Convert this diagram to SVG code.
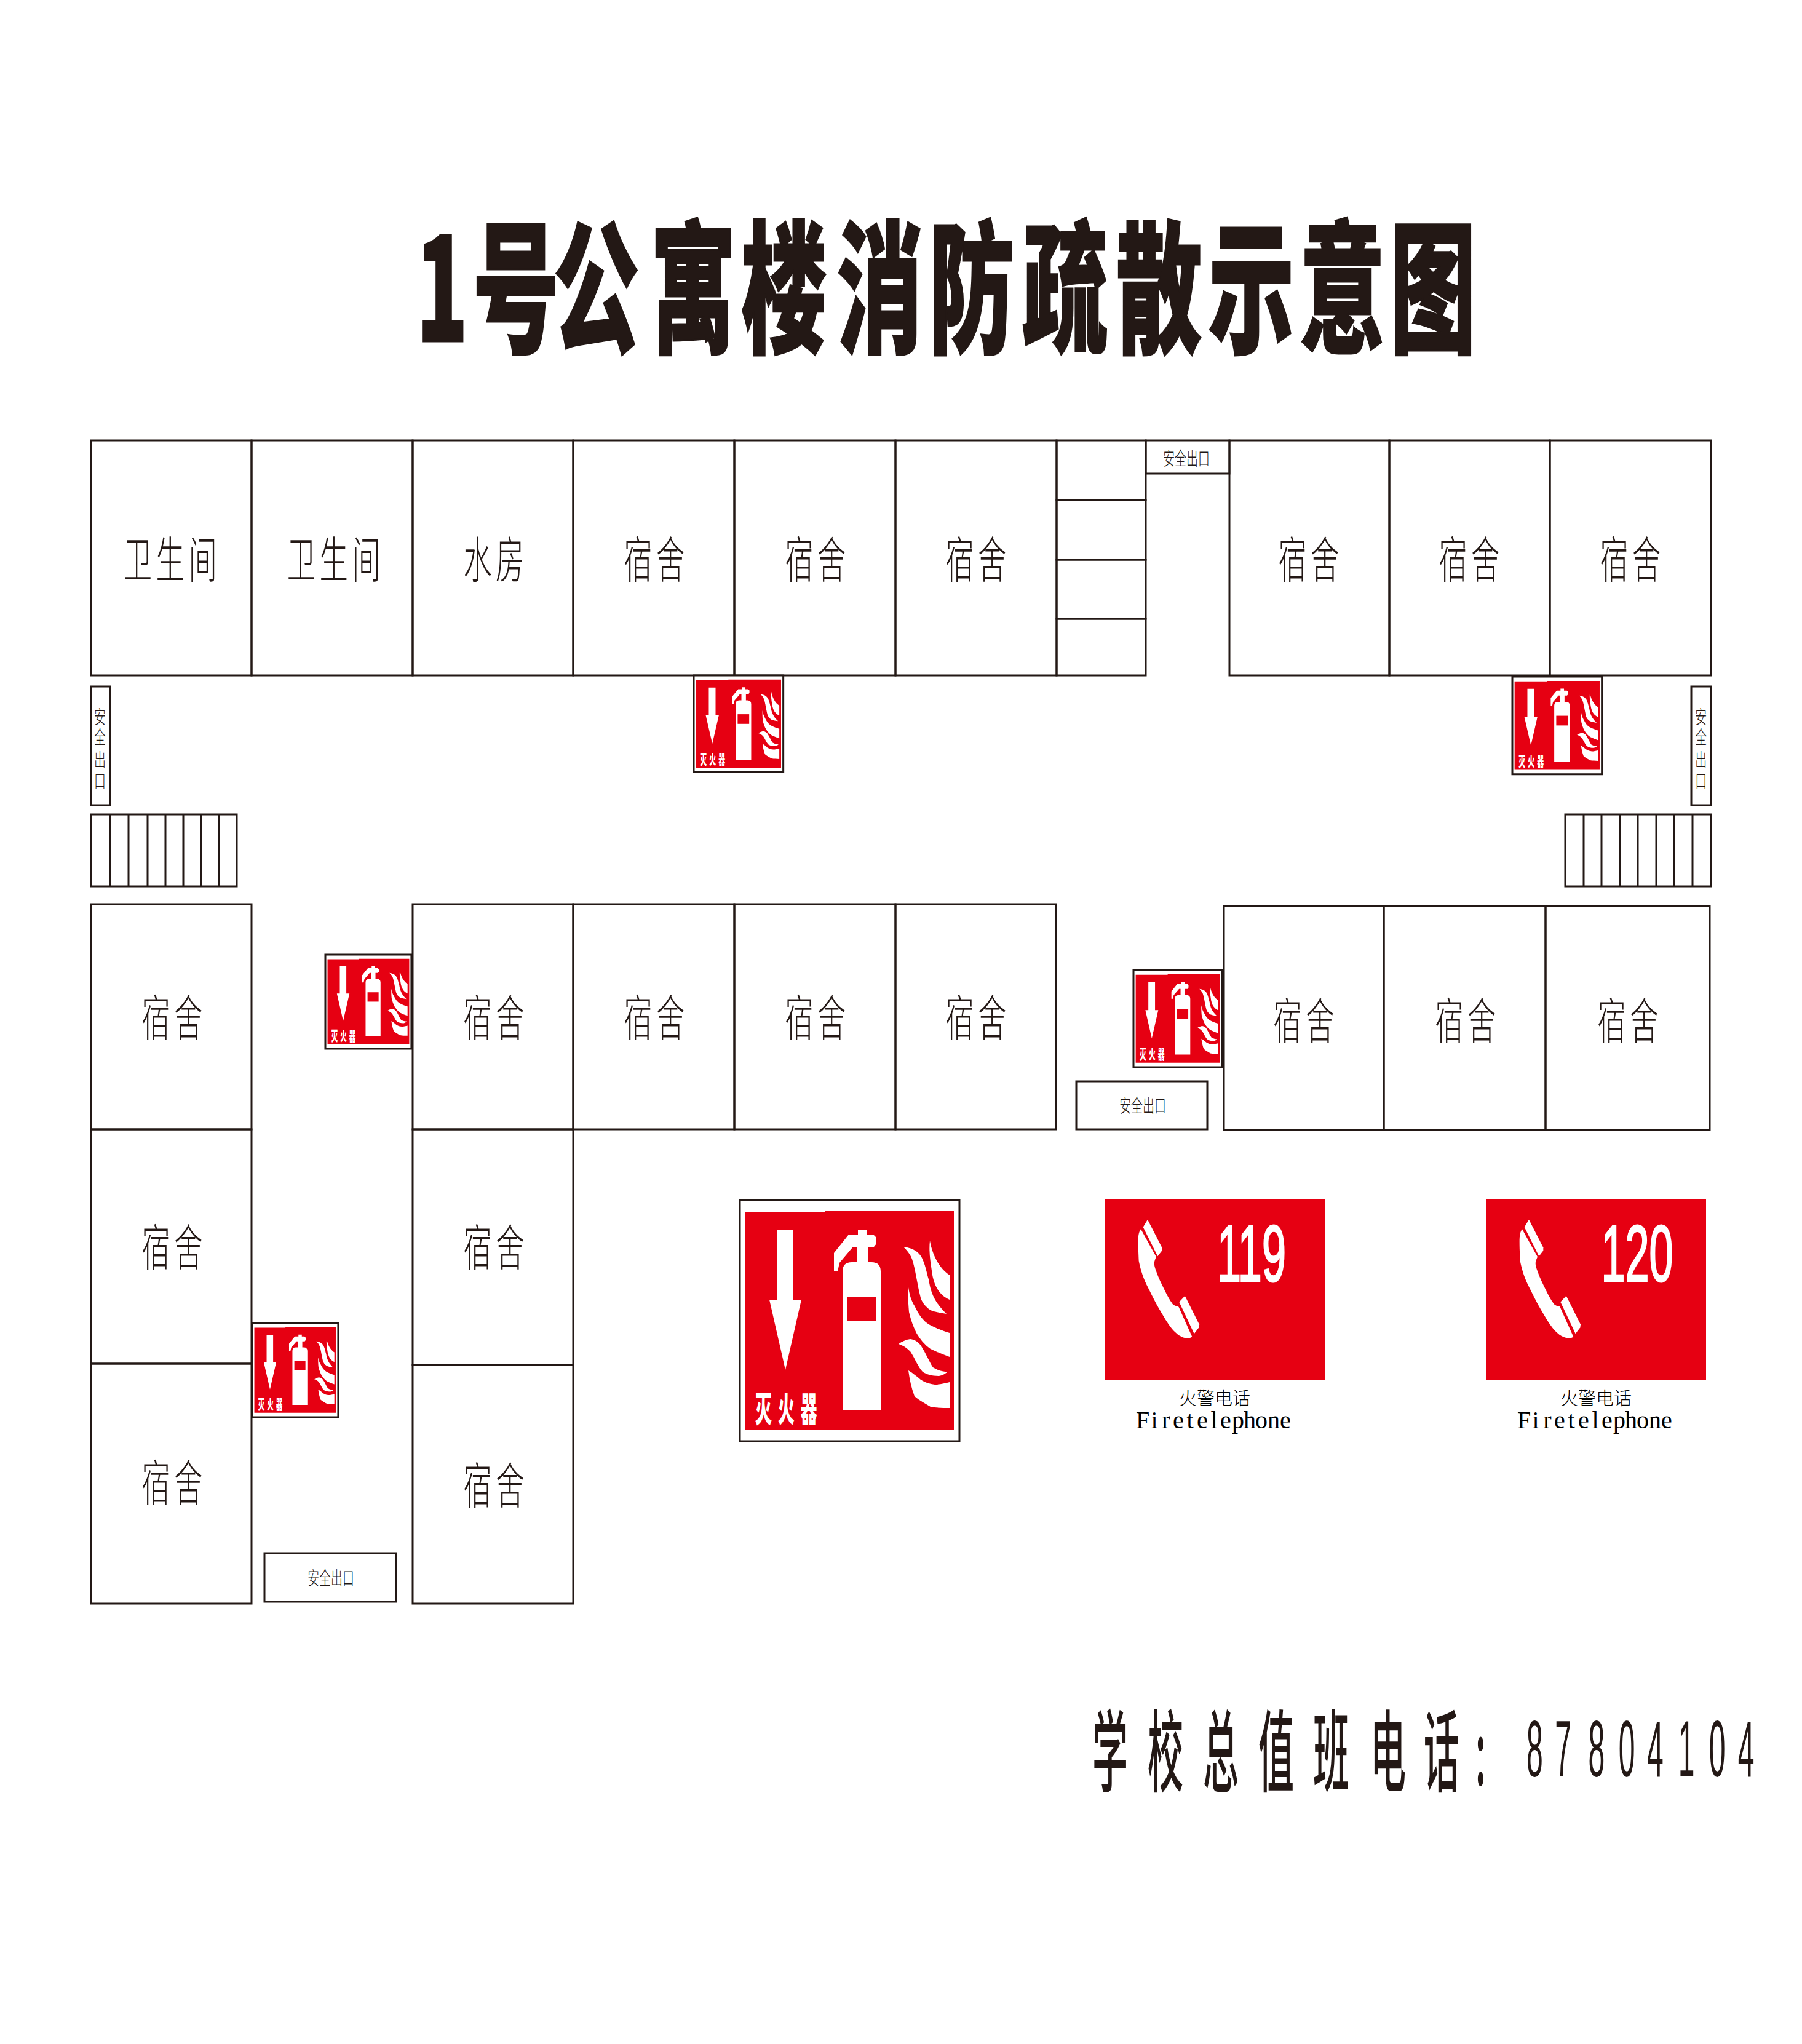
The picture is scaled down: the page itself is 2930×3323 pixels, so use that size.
<svg xmlns="http://www.w3.org/2000/svg" width="2930" height="3323" viewBox="0 0 2930 3323">
<style>
.w{fill:none;stroke:#231815;stroke-width:3}
.r{fill:#e60012}
.h{fill:#fff}
text{font-family:"Noto Sans CJK SC","Liberation Sans",sans-serif;fill:#231815}
.room{font-size:80px;font-weight:200;letter-spacing:11px;text-anchor:middle;dominant-baseline:central}
.ex{font-size:30px;font-weight:200;text-anchor:middle;dominant-baseline:central}
.title{font-size:232px;font-weight:900;stroke:#231815;stroke-width:3}
.duty{font-size:145px;font-weight:500}
.num{font-family:"Liberation Sans",sans-serif;font-size:130px}
.sl{font-size:56px;font-weight:900;fill:#fff}
.dig{font-family:"Liberation Sans",sans-serif;font-size:130px;fill:#fff;stroke:#fff;stroke-width:3;text-anchor:middle}
.cap{font-size:29px;font-weight:200;fill:#000;text-anchor:middle}
.en{font-family:"Liberation Serif",serif;font-size:40px;fill:#000;text-anchor:middle}
</style>
<defs>
<g id="ext">
<rect x="0" y="0" width="357" height="392" fill="#fff" stroke="#231815" stroke-width="3" vector-effect="non-scaling-stroke"/>
<path class="r" d="M9 19H138V17H348V374H9Z"/>
<path class="h" d="M60 49H87V162H100L74 276L48 162H60Z"/>
<path class="h" d="M167 341V116Q167 101 182 101H190V76H184L162 102L159 116H153V86L177 56H192V48H206V56H217L222 61V71L218 76H208V101H214Q229 101 229 116V341Z"/>
<rect class="r" x="175" y="157" width="46" height="39"/>
<path class="h" d="M309 66C313 90 325 112 341 122V162C325 155 315 140 312 115C310 100 307 85 309 66Z"/>
<path class="h" d="M266 76C283 78 293 86 297 96C303 110 304 120 307 129C310 148 315 165 336 185C322 183 315 181 310 179C300 172 296 165 294 159C291 148 289 136 287 126C285 115 283 105 280 96C277 88 272 82 266 76Z"/>
<path class="h" d="M274 142C276 155 279 164 284 172C291 187 298 196 307 202C318 208 330 213 341 216V255C330 251 320 247 310 242C300 235 293 226 287 216C282 206 278 195 275 182C274 170 273 155 274 142Z"/>
<path class="h" d="M258 234C263 230 270 227 277 226C285 227 290 231 294 236C303 250 308 263 314 272C322 277 330 279 338 279C332 284 328 285 324 286C313 286 304 284 297 279C289 270 284 256 277 246C271 240 265 236 258 234Z"/>
<path class="h" d="M274 277C281 281 288 287 294 292C302 297 309 299 317 300C325 300 333 298 341 296V338C331 338 320 338 310 336C302 331 292 326 284 319C279 306 276 292 274 277Z"/>
</g>
<g id="handset">
<path class="h" d="M285 235C270 255 270 280 275 390C285 440 300 480 320 520C345 570 365 610 390 650C410 685 430 715 450 735C470 755 490 765 510 767C522 767 530 765 535 760L470 615C466 610 462 612 458 610C450 608 445 605 440 600C425 580 412 555 400 530C385 500 370 470 360 440C354 425 350 412 350 400C352 390 355 380 360 370Z"/>
<path class="h" d="M318 188L388 325V340L367 367L296 225Z"/>
<path class="h" d="M500 560L570 700L568 715L545 745L472 590Z"/>
</g>
</defs>
<rect width="2930" height="3323" fill="#fff"/>
<g id="title"><text class="title" transform="translate(0,555) scale(.6,1)" x="1127 1282 1500 1762 2008 2268 2517 2770 3025 3275 3522 3768" y="0">1号公寓楼消防疏散示意图</text></g>

<g id="room-wc1"><rect class="w" x="148" y="716" width="261" height="382"/><text class="room" transform="translate(280,904) scale(.58,1)">卫生间</text></g>
<g id="room-wc2"><rect class="w" x="409" y="716" width="262" height="382"/><text class="room" transform="translate(546,904) scale(.58,1)">卫生间</text></g>
<g id="room-water"><rect class="w" x="671" y="716" width="261" height="382"/><text class="room" transform="translate(806,904) scale(.58,1)">水房</text></g>
<g id="room-t1"><rect class="w" x="932" y="716" width="262" height="382"/><text class="room" transform="translate(1067,904) scale(.58,1)">宿舍</text></g>
<g id="room-t2"><rect class="w" x="1194" y="716" width="262" height="382"/><text class="room" transform="translate(1329,904) scale(.58,1)">宿舍</text></g>
<g id="room-t3"><rect class="w" x="1456" y="716" width="262" height="382"/><text class="room" transform="translate(1590,904) scale(.58,1)">宿舍</text></g>
<g id="stairs-top"><rect class="w" x="1718" y="716" width="145" height="97"/><rect class="w" x="1718" y="813" width="145" height="97"/><rect class="w" x="1718" y="910" width="145" height="96"/><rect class="w" x="1718" y="1006" width="145" height="92"/></g>
<g id="exit-top"><rect class="w" x="1863" y="716" width="136" height="54"/><text class="ex" transform="translate(1929,743) scale(.63,1)">安全出口</text></g>
<g id="room-t4"><rect class="w" x="1999" y="716" width="260" height="382"/><text class="room" transform="translate(2131,904) scale(.58,1)">宿舍</text></g>
<g id="room-t5"><rect class="w" x="2259" y="716" width="261" height="382"/><text class="room" transform="translate(2392,904) scale(.58,1)">宿舍</text></g>
<g id="room-t6"><rect class="w" x="2520" y="716" width="262" height="382"/><text class="room" transform="translate(2654,904) scale(.58,1)">宿舍</text></g>

<g id="exit-left"><rect class="w" x="148" y="1116" width="31" height="193"/><text class="ex" transform="scale(.63,1)" x="258 258 258 258" y="1163 1196 1233 1267">安全出口</text></g>
<g id="exit-right"><rect class="w" x="2750" y="1116" width="32" height="193"/><text class="ex" transform="scale(.63,1)" x="4390 4390 4390 4390" y="1163 1196 1233 1267">安全出口</text></g>
<g id="stairs-left"><rect class="w" x="148" y="1324" width="237" height="117"/><path class="w" d="M179 1324V1441M209 1324V1441M240 1324V1441M269 1324V1441M298 1324V1441M327 1324V1441M356 1324V1441"/></g>
<g id="stairs-right"><rect class="w" x="2545" y="1324" width="237" height="117"/><path class="w" d="M2575 1324V1441M2604 1324V1441M2634 1324V1441M2663 1324V1441M2693 1324V1441M2722 1324V1441M2752 1324V1441"/></g>

<g id="room-l1"><rect class="w" x="148" y="1470" width="261" height="366"/><text class="room" transform="translate(283,1649) scale(.58,1)">宿舍</text></g>
<g id="room-l2"><rect class="w" x="148" y="1836" width="261" height="381"/><text class="room" transform="translate(283,2022) scale(.58,1)">宿舍</text></g>
<g id="room-l3"><rect class="w" x="148" y="2217" width="261" height="390"/><text class="room" transform="translate(283,2405) scale(.58,1)">宿舍</text></g>
<g id="room-m1"><rect class="w" x="671" y="1470" width="261" height="366"/><text class="room" transform="translate(806,1649) scale(.58,1)">宿舍</text></g>
<g id="room-m2"><rect class="w" x="932" y="1470" width="262" height="366"/><text class="room" transform="translate(1067,1649) scale(.58,1)">宿舍</text></g>
<g id="room-m3"><rect class="w" x="1194" y="1470" width="262" height="366"/><text class="room" transform="translate(1329,1649) scale(.58,1)">宿舍</text></g>
<g id="room-m4"><rect class="w" x="1456" y="1470" width="261" height="366"/><text class="room" transform="translate(1590,1649) scale(.58,1)">宿舍</text></g>
<g id="room-m5"><rect class="w" x="671" y="1836" width="261" height="383"/><text class="room" transform="translate(806,2022) scale(.58,1)">宿舍</text></g>
<g id="room-m6"><rect class="w" x="671" y="2219" width="261" height="388"/><text class="room" transform="translate(806,2409) scale(.58,1)">宿舍</text></g>
<g id="room-r1"><rect class="w" x="1990" y="1473" width="260" height="364"/><text class="room" transform="translate(2123,1654) scale(.58,1)">宿舍</text></g>
<g id="room-r2"><rect class="w" x="2250" y="1473" width="263" height="364"/><text class="room" transform="translate(2386,1654) scale(.58,1)">宿舍</text></g>
<g id="room-r3"><rect class="w" x="2513" y="1473" width="267" height="364"/><text class="room" transform="translate(2650,1654) scale(.58,1)">宿舍</text></g>
<g id="exit-mid"><rect class="w" x="1750" y="1758" width="213" height="78"/><text class="ex" transform="translate(1858,1795) scale(.63,1)">安全出口</text></g>
<g id="exit-bottom"><rect class="w" x="430" y="2525" width="214" height="79"/><text class="ex" transform="translate(538,2563) scale(.63,1)">安全出口</text></g>

<g id="sign-1" transform="translate(1128,1098) scale(.408,.402)"><use href="#ext"/><text class="sl" transform="translate(0,360) scale(.48,1)" x="52 129 206" y="0">灭火器</text></g>
<g id="sign-2" transform="translate(2459,1100) scale(.408,.405)"><use href="#ext"/><text class="sl" transform="translate(0,360) scale(.48,1)" x="52 129 206" y="0">灭火器</text></g>
<g id="sign-3" transform="translate(529,1552) scale(.392,.39)"><use href="#ext"/><text class="sl" transform="translate(0,360) scale(.48,1)" x="52 129 206" y="0">灭火器</text></g>
<g id="sign-4" transform="translate(1843,1577) scale(.403,.403)"><use href="#ext"/><text class="sl" transform="translate(0,360) scale(.48,1)" x="52 129 206" y="0">灭火器</text></g>
<g id="sign-5" transform="translate(410,2151) scale(.392,.39)"><use href="#ext"/><text class="sl" transform="translate(0,360) scale(.48,1)" x="52 129 206" y="0">灭火器</text></g>
<g id="sign-big" transform="translate(1203,1951)"><use href="#ext"/><text class="sl" transform="translate(0,360) scale(.48,1)" x="52 129 206" y="0">灭火器</text></g>

<g id="phone-119"><rect class="r" x="1796" y="1950" width="358" height="294"/><use href="#handset" transform="translate(1760,1920) scale(.3333)"/><text class="dig" transform="translate(2035,2083) scale(.54,1)">119</text><text class="cap" x="1975" y="2284">火警电话</text><text class="en" x="1858 1877 1896 1916 1935 1955 1974 1993 2013 2032 2051 2071 2090" y="2322">Firetelephone</text></g>
<g id="phone-120"><rect class="r" x="2416" y="1950" width="358" height="294"/><use href="#handset" transform="translate(2380,1920) scale(.3333)"/><text class="dig" transform="translate(2662,2083) scale(.54,1)">120</text><text class="cap" x="2595" y="2284">火警电话</text><text class="en" x="2478 2497 2516 2536 2555 2575 2594 2613 2633 2652 2671 2691 2710" y="2322">Firetelephone</text></g>

<g id="duty"><text class="duty" transform="translate(0,2902) scale(.4,1)" x="4440 4665 4890 5115 5338 5570 5787 5997" y="0">学校总值班电话:</text><text class="num" transform="translate(0,2888) scale(.37,1)" x="6708 6833 6980 7113 7238 7375 7510 7637" y="0">87804104</text></g>
</svg>
